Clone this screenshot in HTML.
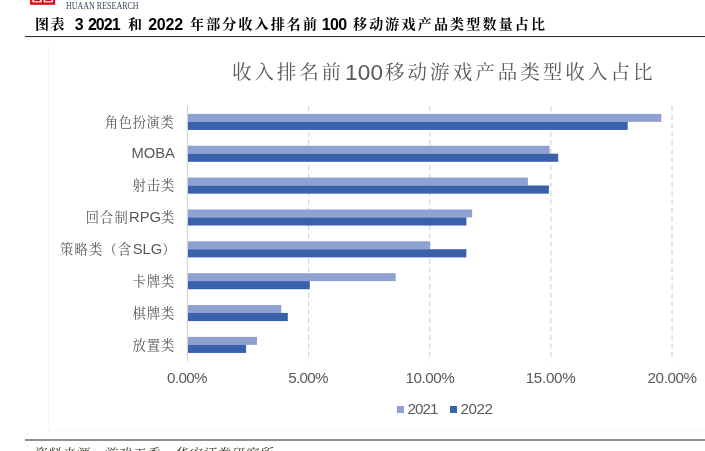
<!DOCTYPE html>
<html lang="zh-CN"><head><meta charset="utf-8"><title>图表 3</title>
<style>
html,body{margin:0;padding:0;background:#fff;}
body{width:705px;height:451px;position:relative;overflow:hidden;font-family:"Liberation Sans","Noto Serif CJK SC",sans-serif;}
.abs{position:absolute;white-space:nowrap;}
.t{position:absolute;white-space:nowrap;line-height:normal;}
#logo{left:30px;top:0;width:25px;height:5px;background:#d7121c;}
#logo i{position:absolute;background:#fff;}
#brand{left:66.3px;top:0.2px;font:9.3px/12px "Liberation Serif",serif;color:#3b4763;transform:scaleX(0.86);transform-origin:0 0;}
#rule1{left:25px;top:36px;width:680px;height:1px;background:#303030;box-shadow:0 0.5px 0 rgba(0,0,0,0.12);}
#rule2{left:25px;top:439px;width:680px;height:2px;background:#8f8f8f;}
#border{left:48px;top:45px;width:670px;height:386px;border-left:1px solid #f6f6f6;border-bottom:1px solid #f6f6f6;box-sizing:border-box;}
.sq{position:absolute;top:406px;width:7.2px;height:7px;}
#src{left:36px;top:445px;font-size:14px;line-height:18px;font-style:italic;color:#222;}
svg{position:absolute;left:0;top:0;}
</style></head><body>
<div id="brand" class="abs">HUAAN RESEARCH</div>
<div id="rule1" class="abs"></div>
<div id="border" class="abs"></div>
<svg width="705" height="451" viewBox="0 0 705 451">
<rect x="30.1" y="0" width="25.1" height="4.8" fill="#d80f16"/>
<rect x="32.3" y="0" width="9.4" height="2.4" fill="#fbeaea"/><rect x="34" y="0" width="5.9" height="1.2" fill="#d80f16"/>
<rect x="43.6" y="0" width="9.4" height="2.4" fill="#fbeaea"/><rect x="45.3" y="0" width="6.1" height="1.2" fill="#d80f16"/>
<line x1="308.63" y1="106.3" x2="308.63" y2="361" stroke="#dadada" stroke-width="1.33" stroke-dasharray="5 3.47"/>
<line x1="429.76" y1="106.3" x2="429.76" y2="361" stroke="#dadada" stroke-width="1.33" stroke-dasharray="5 3.47"/>
<line x1="550.89" y1="106.3" x2="550.89" y2="361" stroke="#dadada" stroke-width="1.33" stroke-dasharray="5 3.47"/>
<line x1="672.02" y1="106.3" x2="672.02" y2="361" stroke="#dadada" stroke-width="1.33" stroke-dasharray="5 3.47"/>
<rect x="188.0" y="113.90" width="473.3" height="7.95" fill="#8fa0d3"/>
<rect x="188.0" y="121.80" width="439.7" height="8.15" fill="#3a62ab"/>
<rect x="188.0" y="145.76" width="361.6" height="7.95" fill="#8fa0d3"/>
<rect x="188.0" y="153.66" width="370.2" height="8.15" fill="#3a62ab"/>
<rect x="188.0" y="177.61" width="339.9" height="7.95" fill="#8fa0d3"/>
<rect x="188.0" y="185.51" width="360.9" height="8.15" fill="#3a62ab"/>
<rect x="188.0" y="209.47" width="284.1" height="7.95" fill="#8fa0d3"/>
<rect x="188.0" y="217.37" width="278.4" height="8.15" fill="#3a62ab"/>
<rect x="188.0" y="241.33" width="242.1" height="7.95" fill="#8fa0d3"/>
<rect x="188.0" y="249.23" width="278.4" height="8.15" fill="#3a62ab"/>
<rect x="188.0" y="273.19" width="207.7" height="7.95" fill="#8fa0d3"/>
<rect x="188.0" y="281.08" width="121.8" height="8.15" fill="#3a62ab"/>
<rect x="188.0" y="305.04" width="93.3" height="7.95" fill="#8fa0d3"/>
<rect x="188.0" y="312.94" width="99.8" height="8.15" fill="#3a62ab"/>
<rect x="188.0" y="336.90" width="69.0" height="7.95" fill="#8fa0d3"/>
<rect x="188.0" y="344.80" width="58.1" height="8.15" fill="#3a62ab"/>
<line x1="187.45" y1="105.7" x2="187.45" y2="361" stroke="#d2d2d2" stroke-width="1.15"/>
</svg>
<span class="t" style="left:35.00px;top:13.20px;font-weight:bold;font-size:14px;font-family:'Liberation Sans','Noto Serif CJK SC',sans-serif;letter-spacing:1.5px;color:#000">图表</span>
<span class="t" style="left:74.70px;top:15.90px;font-weight:bold;font-size:16px;font-family:'Liberation Sans','Noto Serif CJK SC',sans-serif;letter-spacing:0.0px;color:#000">3</span>
<span class="t" style="left:87.90px;top:15.90px;font-weight:bold;font-size:16px;font-family:'Liberation Sans','Noto Serif CJK SC',sans-serif;letter-spacing:-0.967px;color:#000">2021</span>
<span class="t" style="left:128.00px;top:13.20px;font-weight:bold;font-size:14px;font-family:'Liberation Sans','Noto Serif CJK SC',sans-serif;letter-spacing:0.0px;color:#000">和</span>
<span class="t" style="left:148.20px;top:15.90px;font-weight:bold;font-size:16px;font-family:'Liberation Sans','Noto Serif CJK SC',sans-serif;letter-spacing:-0.233px;color:#000">2022</span>
<span class="t" style="left:190.00px;top:12.70px;font-weight:bold;font-size:14px;font-family:'Liberation Sans','Noto Serif CJK SC',sans-serif;letter-spacing:2.143px;color:#000">年部分收入排名前</span>
<span class="t" style="left:321.70px;top:15.90px;font-weight:bold;font-size:16px;font-family:'Liberation Sans','Noto Serif CJK SC',sans-serif;letter-spacing:-0.6px;color:#000">100</span>
<span class="t" style="left:353.00px;top:13.20px;font-weight:bold;font-size:14px;font-family:'Liberation Sans','Noto Serif CJK SC',sans-serif;letter-spacing:2.182px;color:#000">移动游戏产品类型数量占比</span>
<span class="t" style="left:232.00px;top:57.25px;font-size:19.5px;font-family:'Liberation Sans','Noto Serif CJK SC',sans-serif;letter-spacing:2.875px;color:#595959">收入排名前</span>
<span class="t" style="left:345.00px;top:60.10px;font-size:22.5px;font-family:'Liberation Sans','Noto Serif CJK SC',sans-serif;letter-spacing:0.25px;color:#595959">100</span>
<span class="t" style="left:385.00px;top:57.25px;font-size:19.5px;font-family:'Liberation Sans','Noto Serif CJK SC',sans-serif;letter-spacing:3.045px;color:#595959">移动游戏产品类型收入占比</span>
<span class="t" style="left:104.70px;top:111.53px;font-size:13.3px;font-family:'Liberation Sans','Noto Serif CJK SC',sans-serif;letter-spacing:0.675px;color:#595959">角色扮演类</span>
<span class="t" style="left:131.40px;top:145.39px;font-size:13.3px;font-family:'Liberation Sans','Noto Serif CJK SC',sans-serif;letter-spacing:0.0px;color:#595959"><span style="font-size:14.8px;letter-spacing:0">MOBA</span></span>
<span class="t" style="left:132.50px;top:175.24px;font-size:13.3px;font-family:'Liberation Sans','Noto Serif CJK SC',sans-serif;letter-spacing:0.95px;color:#595959">射击类</span>
<span class="t" style="left:85.70px;top:207.10px;font-size:13.3px;font-family:'Liberation Sans','Noto Serif CJK SC',sans-serif;letter-spacing:1.133px;color:#595959">回合制<span style="font-size:14.8px;letter-spacing:0">RPG</span>类</span>
<span class="t" style="left:59.90px;top:238.96px;font-size:13.3px;font-family:'Liberation Sans','Noto Serif CJK SC',sans-serif;letter-spacing:1.26px;color:#595959">策略类（含<span style="font-size:14.8px;letter-spacing:0">SLG</span>）</span>
<span class="t" style="left:132.50px;top:270.81px;font-size:13.3px;font-family:'Liberation Sans','Noto Serif CJK SC',sans-serif;letter-spacing:1.0px;color:#595959">卡牌类</span>
<span class="t" style="left:132.50px;top:302.67px;font-size:13.3px;font-family:'Liberation Sans','Noto Serif CJK SC',sans-serif;letter-spacing:1.0px;color:#595959">棋牌类</span>
<span class="t" style="left:132.50px;top:334.53px;font-size:13.3px;font-family:'Liberation Sans','Noto Serif CJK SC',sans-serif;letter-spacing:1.0px;color:#595959">放置类</span>
<span class="t" style="left:167.10px;top:369.30px;font-size:15.2px;font-family:'Liberation Sans','Noto Serif CJK SC',sans-serif;letter-spacing:-0.65px;color:#595959">0.00%</span>
<span class="t" style="left:288.20px;top:369.30px;font-size:15.2px;font-family:'Liberation Sans','Noto Serif CJK SC',sans-serif;letter-spacing:-0.675px;color:#595959">5.00%</span>
<span class="t" style="left:405.40px;top:369.30px;font-size:15.2px;font-family:'Liberation Sans','Noto Serif CJK SC',sans-serif;letter-spacing:-0.42px;color:#595959">10.00%</span>
<span class="t" style="left:525.70px;top:369.30px;font-size:15.2px;font-family:'Liberation Sans','Noto Serif CJK SC',sans-serif;letter-spacing:-0.3px;color:#595959">15.00%</span>
<span class="t" style="left:647.60px;top:369.30px;font-size:15.2px;font-family:'Liberation Sans','Noto Serif CJK SC',sans-serif;letter-spacing:-0.42px;color:#595959">20.00%</span>
<span class="t" style="left:407.40px;top:399.70px;font-size:15.2px;font-family:'Liberation Sans','Noto Serif CJK SC',sans-serif;letter-spacing:-0.933px;color:#595959">2021</span>
<span class="t" style="left:460.40px;top:399.70px;font-size:15.2px;font-family:'Liberation Sans','Noto Serif CJK SC',sans-serif;letter-spacing:-0.4px;color:#595959">2022</span>
<span class="t" style="left:32.70px;top:442.60px;font-style:italic;font-size:13px;font-family:'Liberation Sans','Noto Serif CJK SC',sans-serif;letter-spacing:1.113px;color:#2a2418">资料来源：游戏工委，华安证券研究所</span>
<div class="sq" style="left:397px;background:#8fa0d3"></div><div class="sq" style="left:450px;background:#3a62ab"></div>
<div id="rule2" class="abs"></div>
</body></html>
